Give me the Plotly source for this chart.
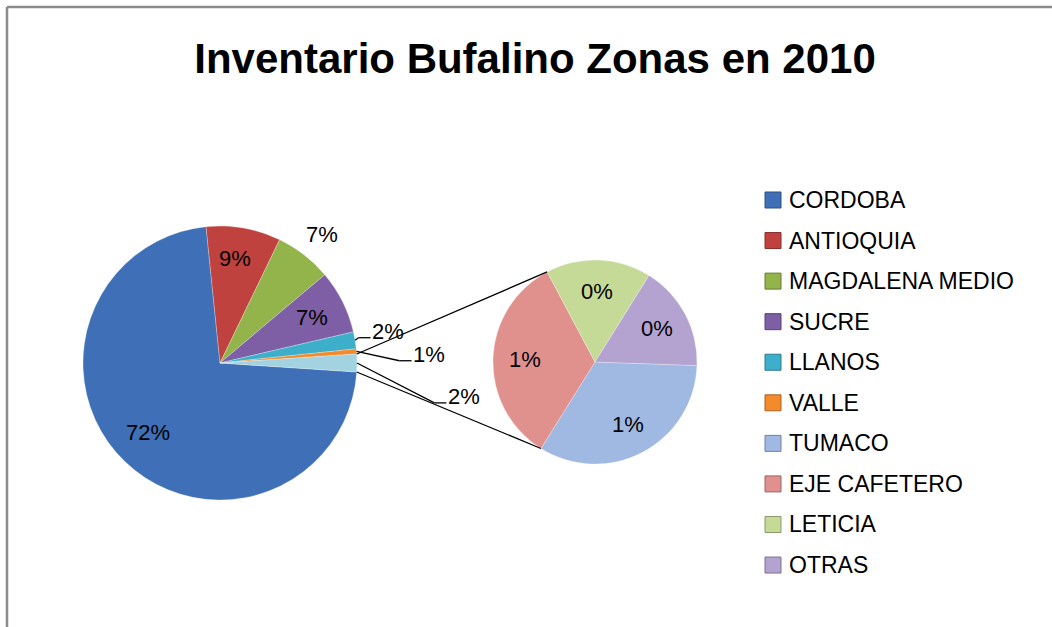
import math

import plotly.graph_objects as go

TITLE = "Inventario Bufalino Zonas en 2010"

# first pie: share of the national buffalo inventory (%)
MAIN_LABELS = ["CORDOBA", "ANTIOQUIA", "MAGDALENA MEDIO", "SUCRE", "LLANOS", "VALLE"]
MAIN_VALUES = [72.4, 8.8, 6.7, 7.5, 2.0, 0.6]

# small zones pulled out into the second pie (%)
SUB_LABELS = ["TUMACO", "EJE CAFETERO", "LETICIA", "OTRAS"]
SUB_VALUES = [0.7, 0.7, 0.35, 0.35]

OTHER_LABEL = "Otras zonas"

MAIN_COLORS = ["#3F70B7", "#BF423E", "#93B44A", "#7E5FA6", "#3EAFCB", "#F38B2C", "#A3D3E0"]
SUB_COLORS = ["#A0B9E2", "#E0918E", "#C6DA98", "#B4A3D0"]

W, H = 1052, 627
FONT = "Liberation Sans"
MAIN_C, MAIN_R = (220, 363), 137
SUB_C, SUB_R = (595, 362), 102
SUB_ROTATION = 92
CONNECT_ANGLES = (332, 212)  # where the joining lines meet the second pie

# label placement per slice: (radius factor, angle nudge, leader line)
MAIN_LABEL_POS = [(0.73, 2, False), (0.77, -2, False), (1.2, 0.7, False),
                  (0.75, 0.6, False), (1.25, -1, True), (1.53, 2.6, True),
                  (1.8, 7.9, True)]
SUB_LABEL_R = 0.69
LABEL_SIZE = 22
LEGEND_SIZE = 23


def px(x):
    return x / W


def py(y):
    return 1 - y / H


def polar(c, r, ang):
    a = math.radians(ang)
    return c[0] + r * math.sin(a), c[1] - r * math.cos(a)


def slice_angles(values, rotation):
    total = sum(values)
    out, start = [], rotation
    for v in values:
        span = v / total * 360
        out.append((start, start + span))
        start += span
    return out


def darker(hex_color, f=0.7):
    r, g, b = (int(hex_color[i:i + 2], 16) for i in (1, 3, 5))
    return "#{:02X}{:02X}{:02X}".format(int(r * f), int(g * f), int(b * f))


main_values = MAIN_VALUES + [sum(SUB_VALUES)]
grand_total = sum(main_values)
other_span = main_values[-1] / grand_total * 360
main_rotation = 90 + other_span / 2

fig = go.Figure()

fig.add_trace(go.Pie(
    labels=MAIN_LABELS + [OTHER_LABEL],
    values=main_values,
    sort=False,
    direction="clockwise",
    rotation=main_rotation,
    marker=dict(colors=MAIN_COLORS, line=dict(color="rgba(255,255,255,0.5)", width=0.5)),
    textinfo="none",
    hoverinfo="label+percent",
    showlegend=False,
    domain=dict(x=[px(MAIN_C[0] - MAIN_R), px(MAIN_C[0] + MAIN_R)],
                y=[py(MAIN_C[1] + MAIN_R), py(MAIN_C[1] - MAIN_R)]),
))

fig.add_trace(go.Pie(
    labels=SUB_LABELS,
    values=SUB_VALUES,
    sort=False,
    direction="clockwise",
    rotation=SUB_ROTATION,
    marker=dict(colors=SUB_COLORS, line=dict(color="rgba(255,255,255,0.5)", width=0.5)),
    textinfo="none",
    hoverinfo="label+value",
    showlegend=False,
    domain=dict(x=[px(SUB_C[0] - SUB_R), px(SUB_C[0] + SUB_R)],
                y=[py(SUB_C[1] + SUB_R), py(SUB_C[1] - SUB_R)]),
))

annotations = []
shapes = []
line_style = dict(color="black", width=1.3)


def add_line(p0, p1):
    shapes.append(dict(type="line", xref="paper", yref="paper",
                       x0=px(p0[0]), y0=py(p0[1]), x1=px(p1[0]), y1=py(p1[1]),
                       line=line_style))


def add_label(text, x, y):
    annotations.append(dict(text=text, x=px(x), y=py(y), xref="paper", yref="paper",
                            showarrow=False, xanchor="center", yanchor="middle",
                            font=dict(family=FONT, size=LABEL_SIZE, color="black")))


# percentage labels on the first pie
main_angles = slice_angles(main_values, main_rotation)
for v, (a0, a1), (rf, nudge, leader) in zip(main_values, main_angles, MAIN_LABEL_POS):
    text = f"{round(v / grand_total * 100)}%"
    mid = (a0 + a1) / 2
    lx, ly = polar(MAIN_C, MAIN_R * rf, mid + nudge)
    add_label(text, lx, ly)
    if leader:
        half_w = LABEL_SIZE * (0.556 * (len(text) - 1) + 0.889) / 2
        end = (lx - half_w - 2, ly + 6)
        elbow = (end[0] - 12, end[1])
        add_line(polar(MAIN_C, MAIN_R, mid), elbow)
        add_line(elbow, end)

# percentage labels on the second pie (share of the whole inventory)
for v, (a0, a1) in zip(SUB_VALUES, slice_angles(SUB_VALUES, SUB_ROTATION)):
    lx, ly = polar(SUB_C, SUB_R * SUB_LABEL_R, (a0 + a1) / 2)
    add_label(f"{round(v / grand_total * 100)}%", lx, ly)

# lines joining the "other" slice to the second pie
o0, o1 = main_angles[-1]
add_line(polar(MAIN_C, MAIN_R, o0), polar(SUB_C, SUB_R, CONNECT_ANGLES[0]))
add_line(polar(MAIN_C, MAIN_R, o1), polar(SUB_C, SUB_R, CONNECT_ANGLES[1]))

# legend drawn by hand so the pulled-out slice is not listed
legend_names = MAIN_LABELS + SUB_LABELS
legend_colors = MAIN_COLORS[:len(MAIN_LABELS)] + SUB_COLORS
for i, (name, col) in enumerate(zip(legend_names, legend_colors)):
    yc = 200 + i * 40.56
    shapes.append(dict(type="rect", xref="paper", yref="paper",
                       x0=px(765), x1=px(781), y0=py(yc + 8), y1=py(yc - 8),
                       fillcolor=col, line=dict(color=darker(col), width=1)))
    annotations.append(dict(text=name, x=px(787), y=py(yc), xref="paper", yref="paper",
                            showarrow=False, xanchor="left", yanchor="middle",
                            font=dict(family=FONT, size=LEGEND_SIZE, color="black")))

# chart area frame (top and left edges visible)
frame = dict(color="#8C8C8C", width=2.5)
shapes.append(dict(type="line", xref="paper", yref="paper",
                   x0=px(7), y0=py(7), x1=1, y1=py(7), line=frame))
shapes.append(dict(type="line", xref="paper", yref="paper",
                   x0=px(7), y0=py(7), x1=px(7), y1=0, line=frame))

fig.update_layout(
    width=W,
    height=H,
    margin=dict(l=0, r=0, t=0, b=0),
    paper_bgcolor="white",
    plot_bgcolor="white",
    title=dict(text=f"<b>{TITLE}</b>", x=px(535), y=py(58), xanchor="center",
               yanchor="middle", font=dict(family=FONT, size=42, color="black")),
    annotations=annotations,
    shapes=shapes,
    showlegend=False,
)

# the page body has a default 8px margin; drop it so the figure fills the window
fig.write_html("out.html", config={"displayModeBar": False},
               post_script="document.body.style.margin = '0';")
